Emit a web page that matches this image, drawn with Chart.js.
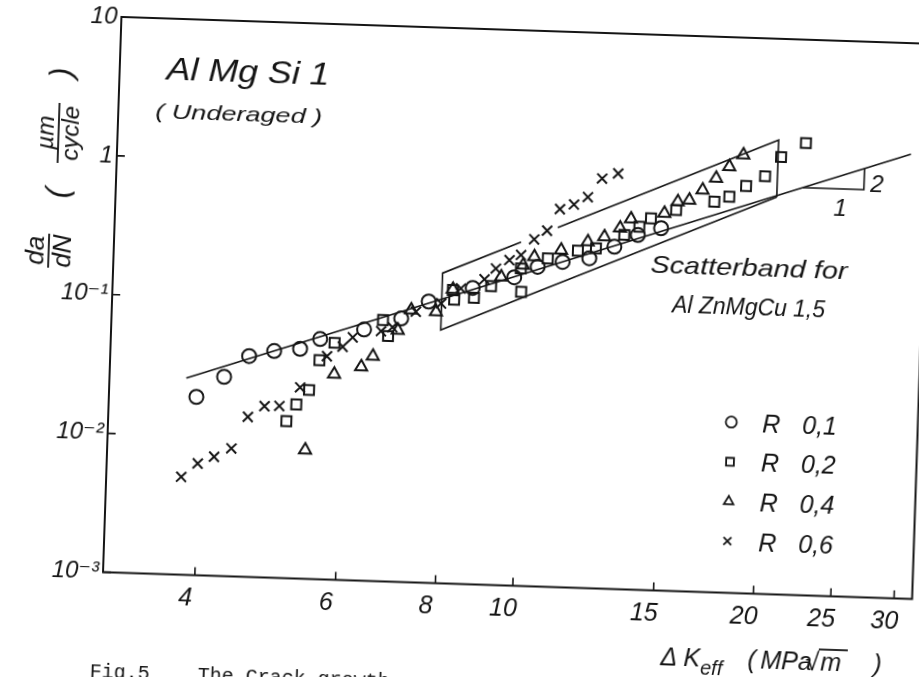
<!DOCTYPE html>
<html>
<head>
<meta charset="utf-8">
<script src="https://cdn.jsdelivr.net/npm/chart.js@4.4.1/dist/chart.umd.min.js"></script>
<style>
    html, body { margin: 0; padding: 0; background: #fff; overflow: hidden; width: 919px; height: 677px; }
    #wrap { position: absolute; left: 0; top: 0; width: 960px; height: 700px; transform: rotate(1.9deg); transform-origin: 510px 308px; }
</style>
</head>
<body>
<div id="wrap"><canvas id="crackChart" width="960" height="700"></canvas></div>
<script>
// tick values / labels
const xTickValues = [4, 6, 8, 10, 15, 20, 25, 30];
const yTickValues = [0.001, 0.01, 0.1, 1, 10];
const yTickLabels = ['10⁻³', '10⁻²', '10⁻¹', '1', '10'];

// load ratios R
const rValues = ['0,1', '0,2', '0,4', '0,6'];

// dK eff (MPa sqrt m) and da/dN (um/cycle)
const r01K = [3.95, 4.27, 4.58, 4.92, 5.30, 5.61, 6.36, 7.07, 7.64, 8.66, 9.75, 10.42, 11.19, 12.08, 12.97, 13.86, 14.81];
const r01V = [0.0192, 0.0272, 0.0389, 0.0429, 0.0451, 0.0536, 0.0644, 0.0788, 0.106, 0.136, 0.166, 0.200, 0.220, 0.237, 0.291, 0.358, 0.406];

const r02K = [5.13, 5.27, 5.46, 5.61, 5.85, 6.71, 6.82, 8.18, 8.22, 8.70, 9.13, 9.96, 9.93, 10.72, 11.68, 12.30, 13.33, 13.91, 14.37, 15.44, 17.22, 17.97, 18.84, 19.88, 20.78, 22.29];
const r02V = [0.0135, 0.0179, 0.0229, 0.0378, 0.0508, 0.076, 0.0585, 0.130, 0.111, 0.1156, 0.1415, 0.131, 0.193, 0.231, 0.267, 0.281, 0.356, 0.411, 0.475, 0.553, 0.649, 0.710, 0.855, 1.016, 1.41, 1.80];

const r04K = [5.43, 5.86, 6.33, 6.54, 7.01, 7.27, 7.81, 8.18, 9.39, 9.99, 10.31, 11.13, 12.01, 12.59, 13.16, 13.57, 14.93, 15.50, 16.02, 16.63, 17.27, 17.92, 18.64];
const r04V = [0.00844, 0.0302, 0.0346, 0.0416, 0.0648, 0.0912, 0.0897, 0.1315, 0.166, 0.204, 0.236, 0.267, 0.311, 0.341, 0.398, 0.465, 0.520, 0.635, 0.657, 0.781, 0.957, 1.168, 1.43];

const r06K = [3.81, 3.99, 4.18, 4.39, 4.59, 4.81, 5.02, 5.32, 5.73, 5.99, 6.16, 6.68, 6.90, 7.37, 7.92, 8.37, 8.95, 9.24, 9.60, 9.92, 10.29, 10.67, 11.05, 11.50, 11.96, 12.44, 13.02];
const r06V = [0.00506, 0.00638, 0.00719, 0.00834, 0.0142, 0.0171, 0.0173, 0.0238, 0.0405, 0.0478, 0.0561, 0.0632, 0.0678, 0.0889, 0.1035, 0.134, 0.158, 0.190, 0.220, 0.241, 0.315, 0.366, 0.527, 0.573, 0.653, 0.895, 0.982];

// AlMgSi1 line, slope 2
const fitK = [3.83, 30.19];
const fitV = [0.0261, 1.59];

// scatterband AlZnMgCu 1,5 (top edge is broken between 9.91 and 11.0)
const bandAK = [20.6, 7.93, 7.93, 9.91];
const bandAV = [0.726, 0.0665, 0.171, 0.2985];
const bandBK = [11.0, 20.6, 20.6];
const bandBV = [0.388, 1.868, 0.726];

// slope triangle 1 : 2
const slopeK = [22.2, 26.45, 26.45];
const slopeV = [0.86, 0.86, 1.22];

const ink = '#151515';
const fontFamily = '"Liberation Sans", "DejaVu Sans", sans-serif';

function toPoints(xs, ys) {
    return xs.map((x, i) => ({ x: x, y: ys[i] }));
}

function markerSet(label, xs, ys, style) {
    return {
        label: label,
        data: toPoints(xs, ys),
        showLine: false,
        pointStyle: style,
        pointRadius: 7,
        pointHoverRadius: 7,
        pointBorderWidth: 2,
        borderColor: ink,
        backgroundColor: 'rgba(0,0,0,0)'
    };
}

function lineSet(xs, ys) {
    return {
        data: toPoints(xs, ys),
        showLine: true,
        pointRadius: 0,
        borderColor: ink,
        borderWidth: 1.6,
        tension: 0,
        fill: false
    };
}

function fitText(ctx, text, x, y, width, font) {
    ctx.save();
    ctx.font = font;
    const w = ctx.measureText(text).width;
    ctx.translate(x, y);
    ctx.scale(width / w, 1);
    ctx.fillText(text, 0, 0);
    ctx.restore();
}

const decorPlugin = {
    id: 'decor',
    afterDraw(chart) {
        const ctx = chart.ctx;
        const area = chart.chartArea;
        const xs = chart.scales.x;
        const ys = chart.scales.y;

        ctx.save();
        ctx.strokeStyle = ink;
        ctx.fillStyle = ink;
        ctx.lineWidth = 2;
        ctx.strokeRect(area.left, area.top, area.right - area.left, area.bottom - area.top);

        // inner tick marks
        ctx.lineWidth = 1.6;
        ctx.beginPath();
        xTickValues.forEach(v => {
            const px = xs.getPixelForValue(v);
            ctx.moveTo(px, area.bottom);
            ctx.lineTo(px, area.bottom - 8);
        });
        yTickValues.forEach(v => {
            const py = ys.getPixelForValue(v);
            ctx.moveTo(area.left, py);
            ctx.lineTo(area.left + 8, py);
        });
        ctx.stroke();

        ctx.textBaseline = 'alphabetic';
        ctx.textAlign = 'left';

        // titles inside the plot
        fitText(ctx, 'Al Mg Si 1', 159, 91, 163, 'italic 32px ' + fontFamily);
        fitText(ctx, '( Underaged )', 149, 130, 167, 'italic 21px ' + fontFamily);
        fitText(ctx, 'Scatterband for', 649, 268, 197, 'italic 24px ' + fontFamily);
        fitText(ctx, 'Al ZnMgCu 1,5', 672, 307, 153, 'italic 23px ' + fontFamily);

        // slope triangle numbers
        ctx.font = 'italic 24px ' + fontFamily;
        ctx.fillText('2', 866, 180);
        ctx.fillText('1', 830, 205);

        // legend
        const styles = ['circle', 'rect', 'triangle', 'crossRot'];
        styles.forEach((st, i) => {
            const cy = 414.7 + i * 39.7;
            ctx.fillStyle = 'rgba(0,0,0,0)';
            ctx.lineWidth = 1.8;
            Chart.helpers.drawPoint(ctx, { pointStyle: st, radius: 5.5, borderWidth: 1.8, rotation: 0 }, 735, cy);
            ctx.fillStyle = ink;
            ctx.font = 'italic 25px ' + fontFamily;
            ctx.fillText('R', 766, cy + 9);
            ctx.fillText(rValues[i], 806, cy + 9);
        });

        // y axis title
        ctx.save();
        ctx.translate(47, 266);
        ctx.rotate(-Math.PI / 2);
        ctx.textAlign = 'center';
        ctx.font = 'italic 26px ' + fontFamily;
        ctx.fillText('da', 0, -5);
        ctx.fillText('dN', 0, 22);
        ctx.beginPath();
        ctx.moveTo(-17, 0);
        ctx.lineTo(17, 0);
        ctx.stroke();
        ctx.restore();

        ctx.save();
        ctx.translate(53, 148);
        ctx.rotate(-Math.PI / 2);
        ctx.textAlign = 'center';
        ctx.font = 'italic 32px ' + fontFamily;
        ctx.fillText('(', -60, 11);
        ctx.fillText(')', 60, 11);
        ctx.font = 'italic 24px ' + fontFamily;
        ctx.fillText('µm', 0, -5);
        ctx.fillText('cycle', 0, 20);
        ctx.beginPath();
        ctx.moveTo(-30, 0);
        ctx.lineTo(30, 0);
        ctx.stroke();
        ctx.restore();

        // x axis title
        ctx.font = 'italic 25px ' + fontFamily;
        ctx.fillText('Δ', 672, 660);
        ctx.fillText('K', 695, 660);
        ctx.font = 'italic 20px ' + fontFamily;
        ctx.fillText('eff', 712, 668);
        ctx.font = 'italic 25px ' + fontFamily;
        ctx.fillText('(', 759, 660);
        ctx.fillText('MPa', 772, 660);
        ctx.fillText('√', 817, 660);
        ctx.fillText('m', 832, 660);
        ctx.fillText(')', 885, 660);
        ctx.beginPath();
        ctx.moveTo(830, 639);
        ctx.lineTo(859, 639);
        ctx.stroke();

        // caption, cut by the page edge
        ctx.font = '20px "Liberation Mono", "DejaVu Sans Mono", monospace';
        ctx.fillText('Fig.5    The Crack growth', 102, 691);

        ctx.restore();
    }
};

const ctx = document.getElementById('crackChart').getContext('2d');

new Chart(ctx, {
    type: 'scatter',
    data: {
        datasets: [
            markerSet('R 0,1', r01K, r01V, 'circle'),
            markerSet('R 0,2', r02K, r02V, 'rect'),
            markerSet('R 0,4', r04K, r04V, 'triangle'),
            markerSet('R 0,6', r06K, r06V, 'crossRot'),
            lineSet(fitK, fitV),
            lineSet(bandAK, bandAV),
            lineSet(bandBK, bandBV),
            lineSet(slopeK, slopeV)
        ]
    },
    options: {
        responsive: false,
        animation: false,
        events: [],
        layout: { padding: { left: 52, top: 30, right: 38.5, bottom: 54.5 } },
        plugins: {
            legend: { display: false },
            tooltip: { enabled: false }
        },
        scales: {
            x: {
                type: 'logarithmic',
                min: 3.07,
                max: 31.6,
                afterBuildTicks: scale => { scale.ticks = xTickValues.map(v => ({ value: v })); },
                afterFit: scale => { scale.height = 60; },
                grid: { display: false, drawTicks: false },
                border: { display: false },
                ticks: {
                    color: ink,
                    font: { family: fontFamily, style: 'italic', size: 25 },
                    padding: 9,
                    labelOffset: -9,
                    autoSkip: false,
                    maxRotation: 0,
                    callback: (v, i) => String(xTickValues[i])
                }
            },
            y: {
                type: 'logarithmic',
                min: 0.001,
                max: 10,
                afterBuildTicks: scale => { scale.ticks = yTickValues.map(v => ({ value: v })); },
                afterFit: scale => { scale.width = 60; },
                grid: { display: false, drawTicks: false },
                border: { display: false },
                ticks: {
                    color: ink,
                    font: { family: fontFamily, style: 'italic', size: 24 },
                    padding: 4,
                    autoSkip: false,
                    callback: (v, i) => yTickLabels[i]
                }
            }
        }
    },
    plugins: [decorPlugin]
});
</script>
</body>
</html>
